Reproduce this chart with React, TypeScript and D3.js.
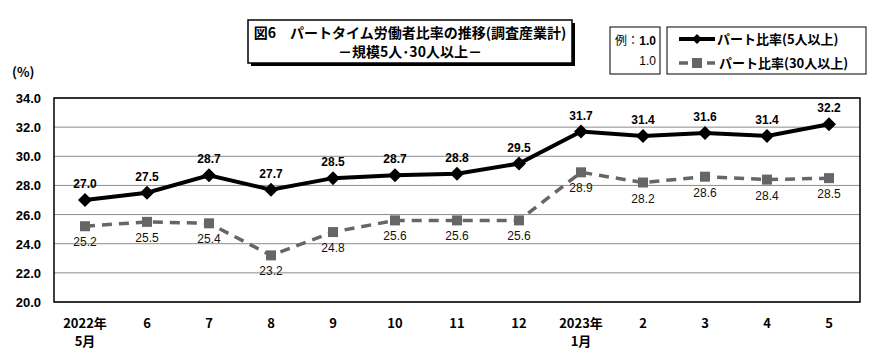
import React from 'react';
import * as d3 from 'd3';

const months = ['2022年|5月', '6', '7', '8', '9', '10', '11', '12', '2023年|1月', '2', '3', '4', '5'];
const ratio5 = [27.0, 27.5, 28.7, 27.7, 28.5, 28.7, 28.8, 29.5, 31.7, 31.4, 31.6, 31.4, 32.2];
const ratio30 = [25.2, 25.5, 25.4, 23.2, 24.8, 25.6, 25.6, 25.6, 28.9, 28.2, 28.6, 28.4, 28.5];
const yTicks = [20, 22, 24, 26, 28, 30, 32, 34];

const W = 879;
const H = 361;
const plot = { left: 54, right: 860, top: 98, bottom: 302 };
const jp = '"Noto Sans CJK JP", "DejaVu Sans", sans-serif';
const narrow = '"Liberation Sans Narrow", "Liberation Sans", Arial, sans-serif';
const grey = '#666666';

const App = () => {
  const x = d3.scaleBand<number>()
    .domain(d3.range(months.length))
    .range([plot.left, plot.right]);
  const cx = (i: number) => (x(i) as number) + x.bandwidth() / 2;
  const y = d3.scaleLinear().domain([20, 34]).range([plot.bottom, plot.top]);

  const line = d3.line<number>()
    .x((_, i) => cx(i))
    .y(d => y(d));

  const diamond = (px: number, py: number, r = 7) =>
    `M${px},${py - r}L${px + r},${py}L${px},${py + r}L${px - r},${py}Z`;

  return (
    <svg width={W} height={H} style={{ position: 'absolute', left: 0, top: 0 }}>
      <rect width={W} height={H} fill="#fff" />

      {/* title */}
      <rect x={251} y={23} width={324} height={43} fill="#000" />
      <rect x={248} y={20} width={324} height={43} fill="#fff" stroke="#000" strokeWidth={1.5} />
      <text x={410} y={38} textAnchor="middle" fontFamily={jp} fontWeight="bold" fontSize={14}>
        図6　パートタイム労働者比率の推移(調査産業計)
      </text>
      <text x={410} y={57} textAnchor="middle" fontFamily={jp} fontWeight="bold" fontSize={14}>
        －規模5人･30人以上－
      </text>

      {/* legend example box */}
      <rect x={610} y={27} width={50} height={47} fill="#fff" stroke="#000" strokeWidth={1} />
      <text x={615} y={45} fontFamily={jp} fontSize={12}>例：</text>
      <text x={656} y={45} textAnchor="end" fontFamily={narrow} fontWeight="bold" fontSize={12}>1.0</text>
      <text x={656} y={65} textAnchor="end" fontFamily={narrow} fontSize={12}>1.0</text>

      {/* legend */}
      <rect x={667} y={27} width={199} height={47} fill="#fff" stroke="#000" strokeWidth={1} />
      <line x1={679} x2={715} y1={39} y2={39} stroke="#000" strokeWidth={4} />
      <path d={diamond(697, 39, 5)} fill="#000" />
      <text x={717} y={44} fontFamily={jp} fontWeight="bold" fontSize={13}>パート比率(5人以上)</text>
      <line x1={679} x2={715} y1={63} y2={63} stroke={grey} strokeWidth={3.5} strokeDasharray="9,5" />
      <rect x={692} y={58} width={10} height={10} fill={grey} />
      <text x={719} y={68} fontFamily={jp} fontWeight="bold" fontSize={13}>パート比率(30人以上)</text>

      {/* axis unit */}
      <text x={12} y={77} fontFamily={jp} fontWeight="bold" fontSize={13}>(%)</text>

      {/* gridlines */}
      {yTicks.map(t => (
        <g key={t}>
          <line x1={plot.left} x2={plot.right} y1={y(t)} y2={y(t)} stroke="#8c8c8c" strokeWidth={1} />
          <text x={41} y={y(t) + 5} textAnchor="end" fontFamily={narrow} fontWeight="bold" fontSize={13}>
            {t.toFixed(1)}
          </text>
        </g>
      ))}
      <rect x={plot.left} y={plot.top} width={plot.right - plot.left} height={plot.bottom - plot.top}
        fill="none" stroke="#000" strokeWidth={1.5} />

      {/* x labels */}
      {months.map((m, i) => {
        const parts = m.split('|');
        return (
          <text key={i} x={cx(i)} y={328} textAnchor="middle" fontFamily={jp} fontWeight="bold" fontSize={13}>
            {parts.map((p, j) => (
              <tspan key={j} x={cx(i)} dy={j === 0 ? 0 : 18}>{p}</tspan>
            ))}
          </text>
        );
      })}

      {/* 30人以上 series */}
      <path d={line(ratio30) as string} fill="none" stroke={grey} strokeWidth={3.5} strokeDasharray="10,7" />
      {ratio30.map((v, i) => (
        <g key={i}>
          <rect x={cx(i) - 5} y={y(v) - 5} width={10} height={10} fill={grey} />
          <text x={cx(i)} y={y(v) + 20} textAnchor="middle" fontFamily={narrow} fontSize={12} fill="#111">
            {v.toFixed(1)}
          </text>
        </g>
      ))}

      {/* 5人以上 series */}
      <path d={line(ratio5) as string} fill="none" stroke="#000" strokeWidth={4} />
      {ratio5.map((v, i) => (
        <g key={i}>
          <path d={diamond(cx(i), y(v))} fill="#000" />
          <text x={cx(i)} y={y(v) - 12} textAnchor="middle" fontFamily={narrow} fontWeight="bold" fontSize={12}>
            {v.toFixed(1)}
          </text>
        </g>
      ))}
    </svg>
  );
};

export default App;
